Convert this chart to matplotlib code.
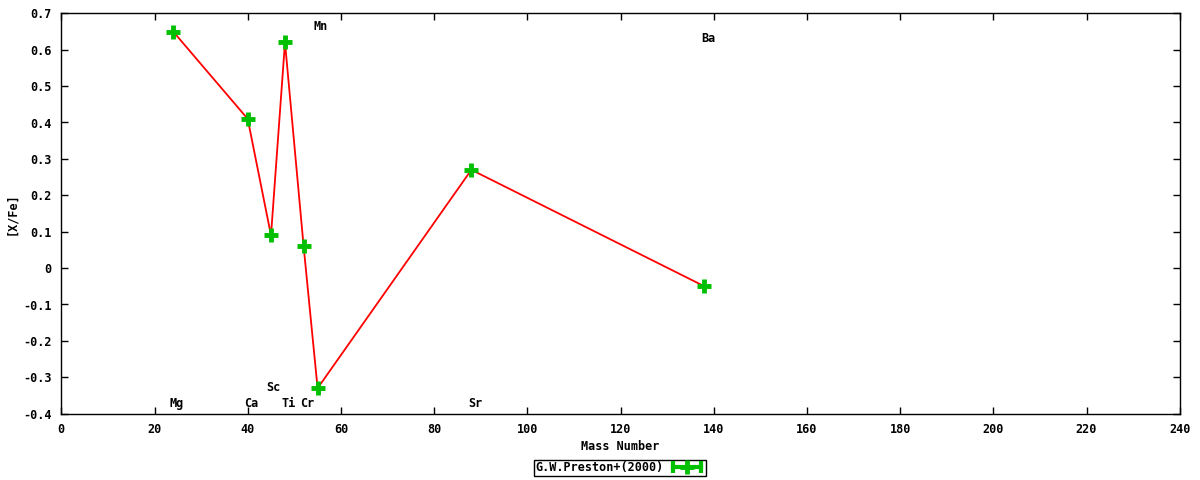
import matplotlib
matplotlib.use("Agg")
import matplotlib.pyplot as plt
from matplotlib.lines import Line2D
from matplotlib.legend_handler import HandlerLine2D, HandlerTuple

# abundance data, G.W.Preston+(2000)
mass = [24, 40, 45, 48, 52, 55, 88, 138]
xfe = [0.65, 0.41, 0.09, 0.62, 0.06, -0.33, 0.27, -0.05]

# element labels as placed on the chart
label_txt = ["Mg", "Ca", "Sc", "Ti", "Cr", "Mn", "Sr", "Ba"]
label_x = [24.7, 40.8, 45.6, 48.8, 52.7, 55.7, 88.8, 138.8]
label_y = [-0.371, -0.371, -0.327, -0.371, -0.371, 0.665, -0.371, 0.632]

green = "#00c000"
font = dict(family="DejaVu Sans Mono", weight="bold", size=8.5)

fig = plt.figure(figsize=(12, 4.8), dpi=100)
ax = fig.add_axes([61.3 / 1200, 1 - 413.7 / 480, 1118.4 / 1200, 400.4 / 480])

ax.plot(mass, xfe, color="red", lw=1.3, zorder=2)
ax.plot(mass, xfe, ls="none", marker="+", ms=10, mew=3.5, color=green, zorder=3)

for t, x, y in zip(label_txt, label_x, label_y):
    ax.text(x, y, t, ha="center", va="center", **font)

ax.set_xlim(0, 240)
ax.set_ylim(-0.4, 0.7)
ax.set_xticks(range(0, 241, 20))
ax.set_yticks([i / 10 for i in range(-4, 8)])
ax.set_yticklabels(["%g" % (i / 10) for i in range(-4, 8)])
ax.tick_params(direction="in", length=5, width=1, top=True, right=True, pad=7)
for lab in ax.get_xticklabels() + ax.get_yticklabels():
    lab.set_fontfamily("DejaVu Sans Mono")
    lab.set_fontweight("bold")
    lab.set_fontsize(8.5)
for s in ax.spines.values():
    s.set_linewidth(1)

ax.set_xlabel("Mass Number", **font)
ax.set_ylabel("[X/Fe]", **font)
ax.xaxis.set_label_coords(0.5, (413.7 - 447) / 400.4)
ax.xaxis.label.set_va("center")
ax.yaxis.set_label_coords((12 - 61.3) / 1118.4, 0.5)
ax.yaxis.label.set_va("center")

# legend sample: green line with end bars and a plus in the middle
bar = Line2D([], [], color=green, lw=3, marker="|", ms=9, mew=3)
mid = Line2D([], [], color=green, ls="none", marker="+", ms=10, mew=3.5)
leg = fig.legend([(bar, mid)], ["G.W.Preston+(2000)"], loc="center",
                 bbox_to_anchor=(620 / 1200, 1 - 468 / 480), markerfirst=False,
                 handler_map={bar: HandlerLine2D(numpoints=2), mid: HandlerLine2D(numpoints=1),
                              tuple: HandlerTuple(ndivide=1)},
                 fancybox=False, framealpha=1, edgecolor="black",
                 borderpad=0.1, handlelength=3, handletextpad=0.5,
                 prop=dict(family="DejaVu Sans Mono", weight="bold", size=8.5))
leg.get_frame().set_linewidth(1)

fig.savefig("out.png", dpi=100)
